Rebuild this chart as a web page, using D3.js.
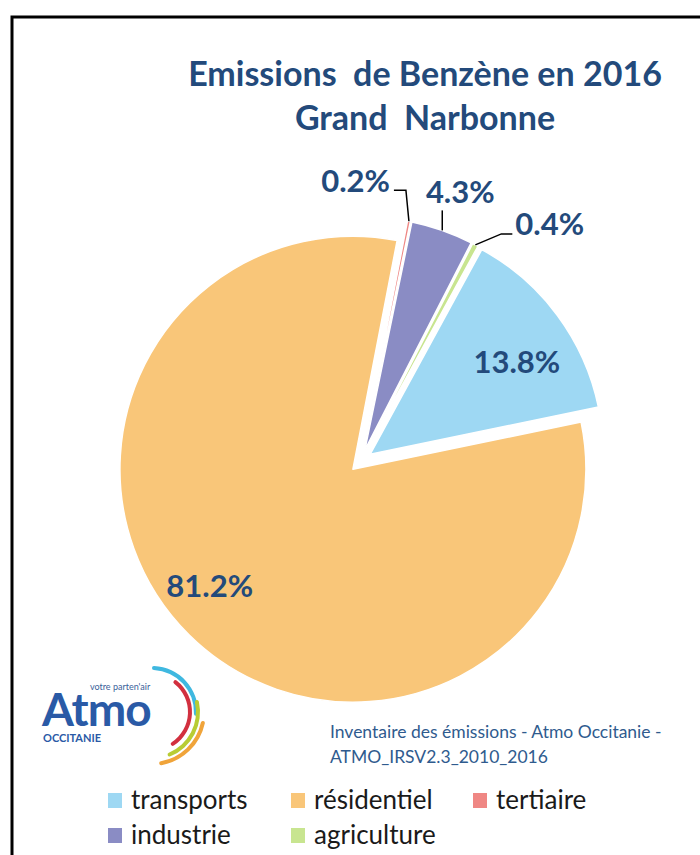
<!DOCTYPE html>
<html><head><meta charset="utf-8">
<script src="https://cdn.jsdelivr.net/npm/d3@7"></script>
<style>html,body{margin:0;padding:0;background:#fff;}svg{display:block;}</style>
</head><body>
<script>
// ---- data ----
const categories = ["transports", "résidentiel", "tertiaire", "industrie", "agriculture"];
const values = [13.8, 81.2, 0.2, 4.3, 0.4];
const colors = ["#9ed8f3", "#f9c679", "#ef8784", "#8a8cc4", "#c8e590"];
const titleLines = ["Emissions\u00a0 de Benzène en 2016", "Grand\u00a0 Narbonne"];
const sourceLines = ["Inventaire des émissions - Atmo Occitanie -", "ATMO_IRSV2.3_2010_2016"];

// ---- layout ----
const W = 700, H = 855;
const cx = 361, cy = 461, R = 233, explode = 11.5, startDeg = 28.6;
const FONT = "Lato, 'Open Sans', sans-serif";
const dark = "#234a7b";

const svg = d3.select("body").append("svg").attr("width", W).attr("height", H);
svg.append("rect").attr("width", W).attr("height", H).attr("fill", "#fff");

// frame (left + top lines)
svg.append("path").attr("d", `M12,${H} L12,17 L${W},17`).attr("fill", "none")
  .attr("stroke", "#000").attr("stroke-width", 3);

// title
svg.append("g").selectAll("text").data(titleLines).join("text")
  .attr("x", 425).attr("y", (d, i) => 86 + i * 44)
  .attr("text-anchor", "middle").attr("font-family", FONT).attr("font-weight", 700)
  .attr("font-size", 34).attr("fill", dark).text(d => d);

// pie
const rad = Math.PI / 180;
const pie = d3.pie().sort(null).value(d => d)
  .startAngle(startDeg * rad).endAngle(startDeg * rad + 2 * Math.PI);
const arcs = pie(values);
const arcGen = d3.arc().innerRadius(0).outerRadius(R);
const mid = a => (a.startAngle + a.endAngle) / 2;
const polar = (r, ang) => [r * Math.sin(ang), -r * Math.cos(ang)];
const offset = a => polar(explode, mid(a));

const g = svg.append("g").attr("transform", `translate(${cx},${cy})`);
g.selectAll("path.slice").data(arcs).join("path").attr("class", "slice")
  .attr("transform", a => `translate(${offset(a)})`)
  .attr("d", arcGen).attr("fill", (a, i) => colors[i])
  .attr("stroke", "#fff").attr("stroke-width", 1.5).attr("stroke-linejoin", "round");

const fmt = v => d3.format(".1f")(v) + "%";
// label placement (layout only)
const labelLayout = [
  { inside: true, r: 173, shift: 4.5 },
  { inside: true, r: 185, shift: 6.1 },
  { inside: false, pts: [[-3, -31], [-15, -31]], text: [-19, -29], anchor: "end" },
  { inside: false, pts: [[0, -20]], text: [18, -27], anchor: "middle" },
  { inside: false, pts: [[26, -11], [37, -11]], text: [40, -10], anchor: "start" }
];
const LFS = 31;
const lbl = g.append("g");
arcs.forEach((a, i) => {
  const L = labelLayout[i];
  const o = offset(a);
  if (L.inside) {
    const p = polar(L.r, mid(a) + L.shift * rad);
    lbl.append("text").attr("x", o[0] + p[0]).attr("y", o[1] + p[1]).attr("dy", "0.35em")
      .attr("text-anchor", "middle").attr("font-family", FONT).attr("font-weight", 700)
      .attr("font-size", LFS).attr("fill", dark).text(fmt(values[i]));
  } else {
    const p = polar(R, mid(a));
    const anchorPt = [o[0] + p[0], o[1] + p[1]];
    const line = [anchorPt].concat(L.pts.map(q => [anchorPt[0] + q[0], anchorPt[1] + q[1]]));
    lbl.append("path").attr("d", d3.line()(line)).attr("fill", "none")
      .attr("stroke", "#000").attr("stroke-width", 1.5);
    lbl.append("text").attr("x", anchorPt[0] + L.text[0]).attr("y", anchorPt[1] + L.text[1])
      .attr("text-anchor", L.anchor).attr("font-family", FONT).attr("font-weight", 700)
      .attr("font-size", LFS).attr("fill", dark).text(fmt(values[i]));
  }
});

// logo
const logo = svg.append("g");
const logoBlue = "#2a5aa6";
logo.append("text").attr("x", 90).attr("y", 690).attr("font-family", FONT)
  .attr("font-size", 9).attr("fill", "#3a5f9a").text("votre parten'air");
logo.append("text").attr("x", 42).attr("y", 726).attr("font-family", FONT).attr("font-weight", 700)
  .attr("font-size", 46).attr("fill", logoBlue).attr("letter-spacing", -1).text("Atmo");
logo.append("text").attr("x", 43).attr("y", 742).attr("font-family", FONT).attr("font-weight", 700)
  .attr("font-size", 11).attr("fill", logoBlue).text("OCCITANIE");
const swirl = [
  { r: 44, a0: 0, a1: 95, c: "#3fb8e0" },
  { r: 38, a0: 35, a1: 150, c: "#d2303f" },
  { r: 46, a0: 75, a1: 160, c: "#b8cc33" },
  { r: 52, a0: 100, a1: 172, c: "#f0a43a" }
];
swirl.forEach(s => {
  logo.append("path").attr("transform", "translate(152,712)")
    .attr("d", d3.arc().innerRadius(s.r - 2).outerRadius(s.r + 2)
      .startAngle(s.a0 * rad).endAngle(s.a1 * rad).cornerRadius(2)())
    .attr("fill", s.c);
});

// source
svg.append("g").selectAll("text").data(sourceLines).join("text")
  .attr("x", 330).attr("y", (d, i) => 738 + i * 25)
  .attr("font-family", FONT).attr("font-size", 17.5).attr("fill", "#2f5b8e").text(d => d);

// legend
const legX = [108, 291, 473], legY = [793, 828];
const leg = svg.append("g").selectAll("g").data(categories).join("g")
  .attr("transform", (d, i) => `translate(${legX[i % 3]},${legY[Math.floor(i / 3)]})`);
leg.append("rect").attr("width", 14).attr("height", 15).attr("fill", (d, i) => colors[i]);
leg.append("text").attr("x", 23).attr("y", 16).attr("font-family", FONT)
  .attr("font-size", 26).attr("fill", "#1a1a1a").text(d => d);
</script>
</body></html>
